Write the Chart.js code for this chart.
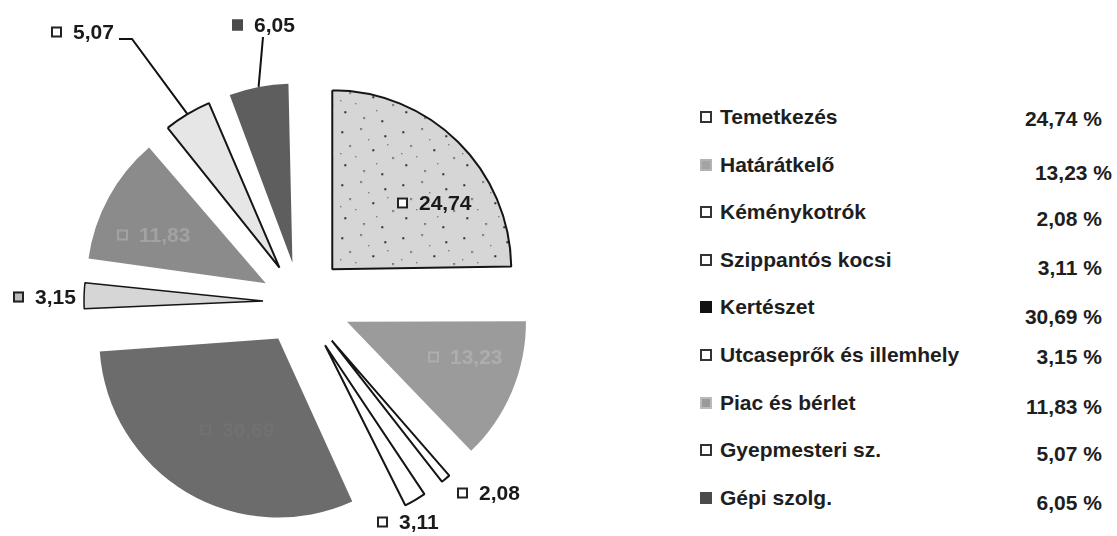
<!DOCTYPE html>
<html lang="hu">
<head>
<meta charset="UTF-8">
<title>Költségmegoszlás</title>
<script src="https://cdn.jsdelivr.net/npm/chart.js"></script>
<style>
  body { margin: 0; background: #fff; font-family: "Liberation Sans", Arial, sans-serif; }
  #wrap { position: relative; width: 1117px; height: 536px; overflow: hidden; }
  #pie { position: absolute; left: 0; top: 0; }
  .row { position: absolute; left: 700px; height: 24px; line-height: 24px; font-weight: bold; font-size: 21px; color: #1e1e1e; white-space: nowrap; }
  .key { display: inline-block; width: 8px; height: 8px; border: 2px solid #333; margin-right: 8px; vertical-align: 1px; }
  .pct { position: absolute; right: 15px; height: 24px; line-height: 24px; font-weight: bold; font-size: 21px; color: #1e1e1e; white-space: nowrap; }
</style>
</head>
<body>
<div id="wrap">
  <canvas id="pie" width="600" height="536"></canvas>
  <div id="legend"></div>
</div>

<script>
// adatok
const categories = ['Temetkezés', 'Határátkelő', 'Kéménykotrók', 'Szippantós kocsi', 'Kertészet',
                    'Utcaseprők és illemhely', 'Piac és bérlet', 'Gyepmesteri sz.', 'Gépi szolg.'];
const shares = [24.74, 13.23, 2.08, 3.11, 30.69, 3.15, 11.83, 5.07, 6.05];

// megjelenés
const R = 179;
const explode = [184, 204, 200, 200, 170, 148, 156, 160, 160];
const borderWidths = [2, 0, 2, 2, 0, 1.5, 0, 2, 0];

// címkék helye a kör középpontjához képest
const labelLayout = [
    { dx: 97, dy: -99, color: '#1a1a1a', key: '#fff', keyBorder: '#222' },
    { dx: 128, dy: 55, color: '#adadad', key: '#9b9b9b', keyBorder: '#adadad' },
    { dx: 157, dy: 191, color: '#1a1a1a', key: '#fff', keyBorder: '#222' },
    { dx: 77, dy: 220, color: '#1a1a1a', key: '#fff', keyBorder: '#222' },
    { dx: -100, dy: 128, color: '#717171', key: '#6c6c6c', keyBorder: '#717171' },
    { dx: -287, dy: -5, color: '#1a1a1a', key: '#bdbdbd', keyBorder: '#222' },
    { dx: -183, dy: -67, color: '#a2a2a2', key: '#8b8b8b', keyBorder: '#a2a2a2' },
    { dx: -249, dy: -270, color: '#1a1a1a', key: '#fff', keyBorder: '#222', leader: [[-181, -263], [-168, -263]] },
    { dx: -68, dy: -277, color: '#1a1a1a', key: '#4a4a4a', keyBorder: '#4a4a4a', leader: [[-37, -265]] }
];

const legendKeys = [
    ['#fff', '#333'], ['#a3a3a3', '#b3b3b3'], ['#fff', '#333'], ['#fff', '#333'], ['#111', '#111'],
    ['#fff', '#333'], ['#9a9a9a', '#bbb'], ['#fff', '#333'], ['#4a4a4a', '#4a4a4a']
];
const pctShift = [2, 8, 7, 8, 10, 2, 4, 4, 5];
const pctRight = [15, 5, 15, 15, 15, 15, 15, 15, 15];

function fmt(v) { return v.toFixed(2).replace('.', ','); }

// pöttyös minta a temetkezés szelethez
function speckle() {
    const c = document.createElement('canvas');
    c.width = 61; c.height = 53;
    const g = c.getContext('2d');
    g.fillStyle = '#d6d6d6';
    g.fillRect(0, 0, 61, 53);
    g.fillStyle = '#2e2e2e';
    [[4, 5, 2], [23, 2, 1.5], [47, 9, 2], [12, 19, 1.5], [35, 23, 2], [55, 31, 1.5],
     [7, 38, 2], [26, 44, 1.5], [44, 47, 2], [18, 30, 1], [50, 18, 1], [31, 13, 1], [3, 27, 1], [39, 37, 1]]
        .forEach(p => g.fillRect(p[0], p[1], p[2], p[2]));
    return g.createPattern(c, 'repeat');
}

const sliceColors = [speckle(), '#9b9b9b', '#ffffff', '#ffffff', '#6c6c6c', '#d6d6d6', '#8b8b8b', '#e6e6e6', '#5e5e5e'];

// a kis szeletek sugarát a kihúzás miatt visszaállítjuk
const radiusFix = {
    id: 'radiusFix',
    beforeDatasetsDraw(chart) {
        chart.getDatasetMeta(0).data.forEach((arc, i) => {
            const fix = 1 - Math.sin(Math.min(Math.PI, arc.circumference));
            arc.outerRadius = R - (explode[i] / 4) * fix;
        });
    }
};

const sliceLabels = {
    id: 'sliceLabels',
    afterDatasetsDraw(chart) {
        const ctx = chart.ctx;
        const arcs = chart.getDatasetMeta(0).data;
        ctx.save();
        ctx.font = 'bold 21px "Liberation Sans", Arial, sans-serif';
        ctx.textBaseline = 'middle';
        arcs.forEach((arc, i) => {
            const L = labelLayout[i];
            const cx = arc.x, cy = arc.y;
            const mid = (arc.startAngle + arc.endAngle) / 2;
            const t = explode[i] / 4;
            const mx = cx + Math.cos(mid) * (t + R);
            const my = cy + Math.sin(mid) * (t + R);
            if (L.leader) {
                ctx.beginPath();
                ctx.strokeStyle = '#111';
                ctx.lineWidth = 2;
                L.leader.forEach((p, k) => k ? ctx.lineTo(cx + p[0], cy + p[1]) : ctx.moveTo(cx + p[0], cy + p[1]));
                ctx.lineTo(mx, my);
                ctx.stroke();
            }
            const lx = cx + L.dx, ly = cy + L.dy;
            ctx.fillStyle = L.key;
            ctx.fillRect(lx, ly - 5.5, 11, 11);
            ctx.strokeStyle = L.keyBorder;
            ctx.lineWidth = 2;
            ctx.strokeRect(lx + 1, ly - 4.5, 9, 9);
            ctx.fillStyle = L.color;
            ctx.fillText(fmt(shares[i]), lx + 22, ly + 1);
        });
        ctx.restore();
    }
};

new Chart(document.getElementById('pie'), {
    type: 'pie',
    data: {
        labels: categories,
        datasets: [{
            data: shares,
            backgroundColor: sliceColors,
            borderColor: '#151515',
            borderWidth: borderWidths,
            offset: explode,
            radius: R
        }]
    },
    options: {
        responsive: false,
        animation: false,
        events: [],
        layout: { padding: { top: 68 } },
        plugins: { legend: { display: false }, tooltip: { enabled: false } }
    },
    plugins: [radiusFix, sliceLabels]
});

// jelmagyarázat
const legend = document.getElementById('legend');
categories.forEach((name, i) => {
    const y = 117 + i * 47.6;
    const row = document.createElement('div');
    row.className = 'row';
    row.style.top = (y - 12) + 'px';
    row.innerHTML = `<span class="key" style="background:${legendKeys[i][0]};border-color:${legendKeys[i][1]}"></span>${name}`;
    legend.appendChild(row);
    const pct = document.createElement('div');
    pct.className = 'pct';
    pct.style.top = (y + pctShift[i] - 12) + 'px';
    pct.style.right = pctRight[i] + 'px';
    pct.textContent = fmt(shares[i]) + ' %';
    legend.appendChild(pct);
});
</script>
</body>
</html>
